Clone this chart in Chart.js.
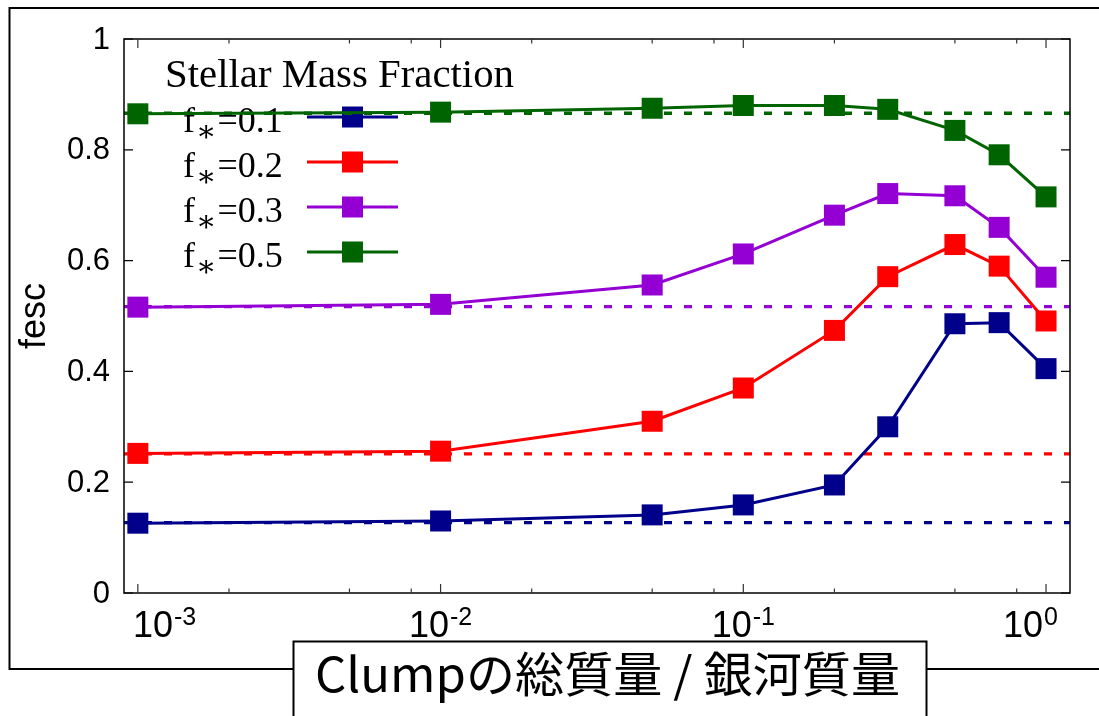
<!DOCTYPE html>
<html><head><meta charset="utf-8">
<script src="https://cdn.jsdelivr.net/npm/chart.js@4.4.0/dist/chart.umd.min.js"></script>
<style>html,body{margin:0;padding:0;background:#fff;} canvas{display:block;}</style>
</head><body>
<canvas id="c" width="1099" height="716"></canvas>
<script>
// ---- data ----
const xValues = [0.001, 0.01, 0.05, 0.1, 0.2, 0.3, 0.5, 0.7, 1.0];
const seriesLabels = ['f∗=0.1', 'f∗=0.2', 'f∗=0.3', 'f∗=0.5'];
const f01 = [0.126, 0.130, 0.141, 0.159, 0.195, 0.300, 0.486, 0.488, 0.405];
const f02 = [0.252, 0.256, 0.310, 0.370, 0.474, 0.571, 0.629, 0.590, 0.491];
const f03 = [0.516, 0.521, 0.556, 0.612, 0.682, 0.721, 0.717, 0.660, 0.570];
const f05 = [0.865, 0.868, 0.875, 0.880, 0.880, 0.873, 0.835, 0.791, 0.715];
const refValues = [0.127, 0.251, 0.517, 0.866];
const seriesColors = ['#00008b', '#ff0000', '#9400d3', '#006400'];
const yTicks = [0, 0.2, 0.4, 0.6, 0.8, 1];
const yTickLabels = ['0', '0.2', '0.4', '0.6', '0.8', '1'];
const xMajorExps = [-3, -2, -1, 0];
const xMinorMult = [2, 5, 8];
const legendTitle = 'Stellar Mass Fraction';
const yTitle = 'fesc';
const xTitle = 'Clumpの総質量 / 銀河質量';
const xMin = 9e-4, xMax = 1.2;

const seriesValues = [f01, f02, f03, f05];

const datasets = [];
seriesValues.forEach((vals, i) => {
  datasets.push({
    label: seriesLabels[i],
    data: xValues.map((x, j) => ({x: x, y: vals[j]})),
    borderColor: seriesColors[i],
    backgroundColor: seriesColors[i],
    borderWidth: 3,
    pointStyle: 'rect',
    pointRadius: 14.85,
    pointHoverRadius: 14.85,
    pointBorderWidth: 0,
    showLine: true,
    tension: 0,
    order: 10 - i
  });
});
refValues.forEach((v, i) => {
  datasets.push({
    label: 'ref ' + seriesLabels[i],
    data: [{x: xMin, y: v}, {x: xMax, y: v}],
    borderColor: seriesColors[i],
    borderWidth: 3.3,
    borderDash: [8, 12],
    pointRadius: 0,
    showLine: true,
    order: 20 - i
  });
});

const deco = {
  id: 'deco',
  beforeDraw(chart) {
    const ctx = chart.ctx;
    ctx.save();
    ctx.fillStyle = '#fff';
    ctx.fillRect(0, 0, chart.width, chart.height);
    ctx.strokeStyle = '#000';
    ctx.lineWidth = 2;
    ctx.strokeRect(9.5, 8, 1110, 661);
    ctx.restore();
  },
  beforeDatasetsDraw(chart) {
    const ctx = chart.ctx;
    ctx.save();
    ctx.fillStyle = '#000';
    ctx.textBaseline = 'alphabetic';
    ctx.textAlign = 'left';
    ctx.font = '40.8px "Liberation Serif"';
    ctx.fillText(legendTitle, 165, 87);
    const rowY = [117, 162, 207, 252];
    seriesLabels.forEach((lab, i) => {
      const y = rowY[i];
      let x = 183;
      ctx.font = '36px "Liberation Serif"';
      ctx.fillText(lab[0], x, y + 15);
      x += ctx.measureText(lab[0]).width + 1;
      ctx.font = '30px "DejaVu Serif"';
      ctx.fillText(lab[1], x, y + 24);
      x += ctx.measureText(lab[1]).width + 1;
      ctx.font = '36px "Liberation Serif"';
      ctx.fillText(lab.slice(2), x, y + 15);
      ctx.strokeStyle = seriesColors[i];
      ctx.lineWidth = 3;
      ctx.beginPath();
      ctx.moveTo(307, y);
      ctx.lineTo(398, y);
      ctx.stroke();
      ctx.fillStyle = seriesColors[i];
      ctx.fillRect(352.5 - 10.5, y - 10.5, 21, 21);
      ctx.fillStyle = '#000';
    });
    ctx.restore();
  },
  afterDraw(chart) {
    const ctx = chart.ctx;
    const a = chart.chartArea;
    const xs = chart.scales.x, ys = chart.scales.y;
    ctx.save();
    ctx.strokeStyle = '#000';
    ctx.lineWidth = 1.5;
    ctx.strokeRect(a.left, a.top, a.right - a.left, a.bottom - a.top);
    ctx.lineWidth = 1.2;
    ctx.beginPath();
    yTicks.forEach(v => {
      const py = ys.getPixelForValue(v);
      ctx.moveTo(a.left, py); ctx.lineTo(a.left + 9, py);
      ctx.moveTo(a.right, py); ctx.lineTo(a.right - 9, py);
    });
    ctx.stroke();
    ctx.fillStyle = '#000';
    ctx.font = '31px "Liberation Sans"';
    ctx.textAlign = 'right';
    ctx.textBaseline = 'middle';
    yTicks.forEach((v, i) => {
      ctx.fillText(yTickLabels[i], 110, ys.getPixelForValue(v) + 1);
    });
    ctx.strokeStyle = '#333';
    ctx.lineWidth = 1.2;
    ctx.beginPath();
    xMajorExps.forEach(e => {
      const px = xs.getPixelForValue(Math.pow(10, e));
      ctx.moveTo(px, a.bottom); ctx.lineTo(px, a.bottom - 9);
      ctx.moveTo(px, a.top); ctx.lineTo(px, a.top + 9);
    });
    [-4, -3, -2, -1, 0].forEach(e => {
      xMinorMult.forEach(m => {
        const v = m * Math.pow(10, e);
        if (v < xMin || v > xMax) return;
        const px = xs.getPixelForValue(v);
        ctx.moveTo(px, a.bottom); ctx.lineTo(px, a.bottom - 4.5);
        ctx.moveTo(px, a.top); ctx.lineTo(px, a.top + 4.5);
      });
    });
    ctx.stroke();
    ctx.textAlign = 'left';
    ctx.textBaseline = 'alphabetic';
    xMajorExps.forEach(e => {
      const px = xs.getPixelForValue(Math.pow(10, e));
      const base = '10', sup = String(e);
      ctx.font = '36px "Liberation Sans"';
      const wb = ctx.measureText(base).width;
      ctx.font = '25px "Liberation Sans"';
      const wsu = ctx.measureText(sup).width;
      const tot = wb + 1 + wsu;
      let left = px - tot / 2;
      if (left < a.left + 9) left = a.left + 9;
      if (left + tot > a.right - 12) left = a.right - 12 - tot;
      ctx.font = '36px "Liberation Sans"';
      ctx.fillText(base, left, a.bottom + 44);
      ctx.font = '25px "Liberation Sans"';
      ctx.fillText(sup, left + wb + 1, a.bottom + 32);
    });
    ctx.save();
    ctx.translate(45, (a.top + a.bottom) / 2);
    ctx.rotate(-Math.PI / 2);
    ctx.textAlign = 'center';
    ctx.font = '36px "Liberation Sans"';
    ctx.fillText(yTitle, 0, 0);
    ctx.restore();
    ctx.fillStyle = '#fff';
    ctx.fillRect(293.5, 641.5, 633, 100);
    ctx.strokeStyle = '#000';
    ctx.lineWidth = 2;
    ctx.strokeRect(293.5, 641.5, 633, 100);
    ctx.fillStyle = '#000';
    ctx.font = '48px "Noto Sans CJK JP"';
    const tw = ctx.measureText(xTitle).width;
    const sx = 585 / tw;
    ctx.save();
    ctx.translate(315, 692);
    ctx.scale(sx, 1);
    ctx.textAlign = 'left';
    ctx.fillText(xTitle, 0, 0);
    ctx.restore();
    ctx.restore();
  }
};

new Chart(document.getElementById('c'), {
  type: 'scatter',
  data: { datasets: datasets },
  options: {
    responsive: false,
    animation: false,
    devicePixelRatio: 1,
    layout: { padding: { left: 124, right: 29, top: 39, bottom: 123 } },
    plugins: { legend: { display: false }, tooltip: { enabled: false } },
    scales: {
      x: { type: 'logarithmic', min: xMin, max: xMax, display: false },
      y: { type: 'linear', min: 0, max: 1, display: false }
    }
  },
  plugins: [deco]
});
</script>
</body></html>
